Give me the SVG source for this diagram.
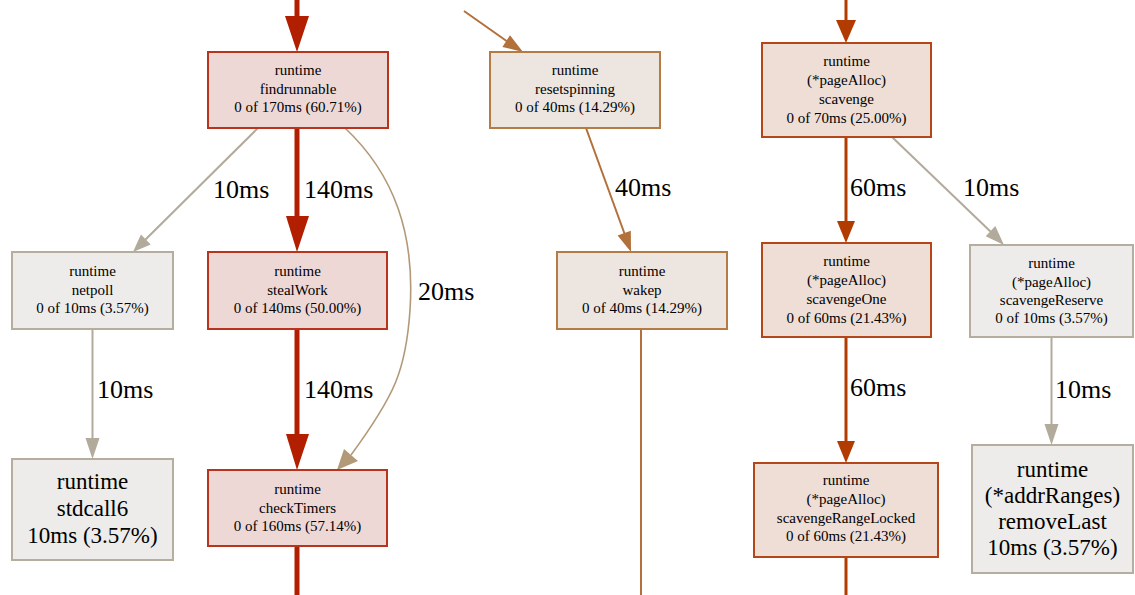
<svg xmlns="http://www.w3.org/2000/svg" width="1135" height="595" viewBox="0 0 1135 595">
<style>
  text { font-family: 'Liberation Serif', 'DejaVu Serif', serif; fill: #000; text-anchor: middle; }
  .s { font-size: 15px; }
  .b { font-size: 23px; }
  .lbl { font-size: 26px; text-anchor: start; }
  .nr rect { fill: #eed8d6; stroke: #b9341c; stroke-width: 2; }
  .no rect { fill: #ede5df; stroke: #b47b45; stroke-width: 2; }
  .ns rect { fill: #eeded6; stroke: #b4461a; stroke-width: 2; }
  .ng rect { fill: #edecea; stroke: #b5ae9f; stroke-width: 2; }
  .e { fill: none; }
  .er { stroke: #b21e00; stroke-width: 5; }
  .eo { stroke: #b2703a; stroke-width: 2; }
  .es { stroke: #b23c00; stroke-width: 3; }
  .eg { stroke: #b2ab9c; stroke-width: 2; }
  .et { stroke: #b29a78; stroke-width: 1.6; }
</style>
<rect width="1135" height="595" fill="#fff"/>
<g id="connectors">
  <line class="e er" x1="297" y1="0" x2="297" y2="18"/>
  <polygon fill="#b21e00" points="285,16 309,16 297,52"/>
  <line class="e eg" x1="258" y1="128" x2="144" y2="241"/>
  <polygon fill="#b2ab9c" points="133,252 140.9,234.4 150.7,244.4"/>
  <text class="lbl" x="213" y="198">10ms</text>
  <line class="e er" x1="297" y1="128" x2="297" y2="218"/>
  <polygon fill="#b21e00" points="286,216 309,216 297,252"/>
  <text class="lbl" x="304" y="198">140ms</text>
  <path class="e et" d="M345,128 C395,175 415,235 410,310 C406,370 395,395 351,455"/>
  <polygon fill="#b29a78" points="337,470 344,449 358,461"/>
  <text class="lbl" x="418" y="300">20ms</text>
  <line class="e eg" x1="92.5" y1="329" x2="92.5" y2="440"/>
  <polygon fill="#b2ab9c" points="85.5,438 99.5,438 92.5,459"/>
  <text class="lbl" x="97" y="398">10ms</text>
  <line class="e er" x1="297" y1="329" x2="297" y2="436"/>
  <polygon fill="#b21e00" points="286,434 309,434 297,470"/>
  <text class="lbl" x="304" y="398">140ms</text>
  <line class="e er" x1="297" y1="546" x2="297" y2="595"/>
  <line class="e eo" x1="464" y1="11" x2="508" y2="42"/>
  <polygon fill="#b2703a" points="523,52 502.4,47 510,35.2"/>
  <line class="e eo" x1="586" y1="128" x2="625" y2="235"/>
  <polygon fill="#b2703a" points="631,252 617.6,235.6 630.8,230.8"/>
  <text class="lbl" x="615" y="196">40ms</text>
  <line class="e eo" x1="641" y1="329" x2="641" y2="595"/>
  <line class="e es" x1="846" y1="0" x2="846" y2="22"/>
  <polygon fill="#b23c00" points="836,20 856,20 846,43"/>
  <line class="e es" x1="846" y1="137" x2="846" y2="223"/>
  <polygon fill="#b23c00" points="837,221 855,221 846,243"/>
  <text class="lbl" x="850" y="196">60ms</text>
  <line class="e eg" x1="892" y1="137" x2="992" y2="233"/>
  <polygon fill="#b2ab9c" points="1004,245 985.7,236.3 995.3,226.1"/>
  <text class="lbl" x="963" y="196">10ms</text>
  <line class="e es" x1="846" y1="337" x2="846" y2="443"/>
  <polygon fill="#b23c00" points="837,441 855,441 846,463"/>
  <text class="lbl" x="850" y="396">60ms</text>
  <line class="e es" x1="846" y1="557" x2="846" y2="595"/>
  <line class="e eg" x1="1051.5" y1="337" x2="1051.5" y2="426"/>
  <polygon fill="#b2ab9c" points="1044.5,424 1058.5,424 1051.5,445"/>
  <text class="lbl" x="1055" y="398">10ms</text>
</g>
<g id="findrunnable" class="nr">
  <rect x="208" y="52" width="180" height="76"/>
  <text class="s" x="298" y="75">runtime</text>
  <text class="s" x="298" y="93.5">findrunnable</text>
  <text class="s" x="298" y="112">0 of 170ms (60.71%)</text>
</g>
<g id="resetspinning" class="no">
  <rect x="490" y="52" width="170" height="76"/>
  <text class="s" x="575" y="75">runtime</text>
  <text class="s" x="575" y="93.5">resetspinning</text>
  <text class="s" x="575" y="112">0 of 40ms (14.29%)</text>
</g>
<g id="scavenge" class="ns">
  <rect x="762" y="43" width="169" height="94"/>
  <text class="s" x="846.5" y="66">runtime</text>
  <text class="s" x="846.5" y="85">(*pageAlloc)</text>
  <text class="s" x="846.5" y="104">scavenge</text>
  <text class="s" x="846.5" y="123">0 of 70ms (25.00%)</text>
</g>
<g id="netpoll" class="ng">
  <rect x="12" y="252" width="161" height="77"/>
  <text class="s" x="92.5" y="276">runtime</text>
  <text class="s" x="92.5" y="294.5">netpoll</text>
  <text class="s" x="92.5" y="313">0 of 10ms (3.57%)</text>
</g>
<g id="stealWork" class="nr">
  <rect x="208" y="252" width="179" height="77"/>
  <text class="s" x="297.5" y="276">runtime</text>
  <text class="s" x="297.5" y="294.5">stealWork</text>
  <text class="s" x="297.5" y="313">0 of 140ms (50.00%)</text>
</g>
<g id="wakep" class="no">
  <rect x="557" y="252" width="170" height="77"/>
  <text class="s" x="642" y="276">runtime</text>
  <text class="s" x="642" y="294.5">wakep</text>
  <text class="s" x="642" y="313">0 of 40ms (14.29%)</text>
</g>
<g id="scavengeOne" class="ns">
  <rect x="762" y="243" width="169" height="94"/>
  <text class="s" x="846.5" y="266">runtime</text>
  <text class="s" x="846.5" y="285">(*pageAlloc)</text>
  <text class="s" x="846.5" y="304">scavengeOne</text>
  <text class="s" x="846.5" y="323">0 of 60ms (21.43%)</text>
</g>
<g id="scavengeReserve" class="ng">
  <rect x="970" y="245" width="163" height="92"/>
  <text class="s" x="1051.5" y="268">runtime</text>
  <text class="s" x="1051.5" y="287">(*pageAlloc)</text>
  <text class="s" x="1051.5" y="305">scavengeReserve</text>
  <text class="s" x="1051.5" y="323">0 of 10ms (3.57%)</text>
</g>
<g id="stdcall6" class="ng">
  <rect x="12" y="459" width="161" height="101"/>
  <text class="b" x="92.5" y="489">runtime</text>
  <text class="b" x="92.5" y="516">stdcall6</text>
  <text class="b" x="92.5" y="543">10ms (3.57%)</text>
</g>
<g id="checkTimers" class="nr">
  <rect x="208" y="470" width="179" height="76"/>
  <text class="s" x="297.5" y="494">runtime</text>
  <text class="s" x="297.5" y="512.5">checkTimers</text>
  <text class="s" x="297.5" y="531">0 of 160ms (57.14%)</text>
</g>
<g id="scavengeRangeLocked" class="ns">
  <rect x="754" y="463" width="184" height="94"/>
  <text class="s" x="846" y="485">runtime</text>
  <text class="s" x="846" y="504">(*pageAlloc)</text>
  <text class="s" x="846" y="522.5">scavengeRangeLocked</text>
  <text class="s" x="846" y="541">0 of 60ms (21.43%)</text>
</g>
<g id="removeLast" class="ng">
  <rect x="972" y="445" width="161" height="128"/>
  <text class="b" x="1052.5" y="477">runtime</text>
  <text class="b" x="1052.5" y="503">(*addrRanges)</text>
  <text class="b" x="1052.5" y="529">removeLast</text>
  <text class="b" x="1052.5" y="555">10ms (3.57%)</text>
</g>
</svg>
